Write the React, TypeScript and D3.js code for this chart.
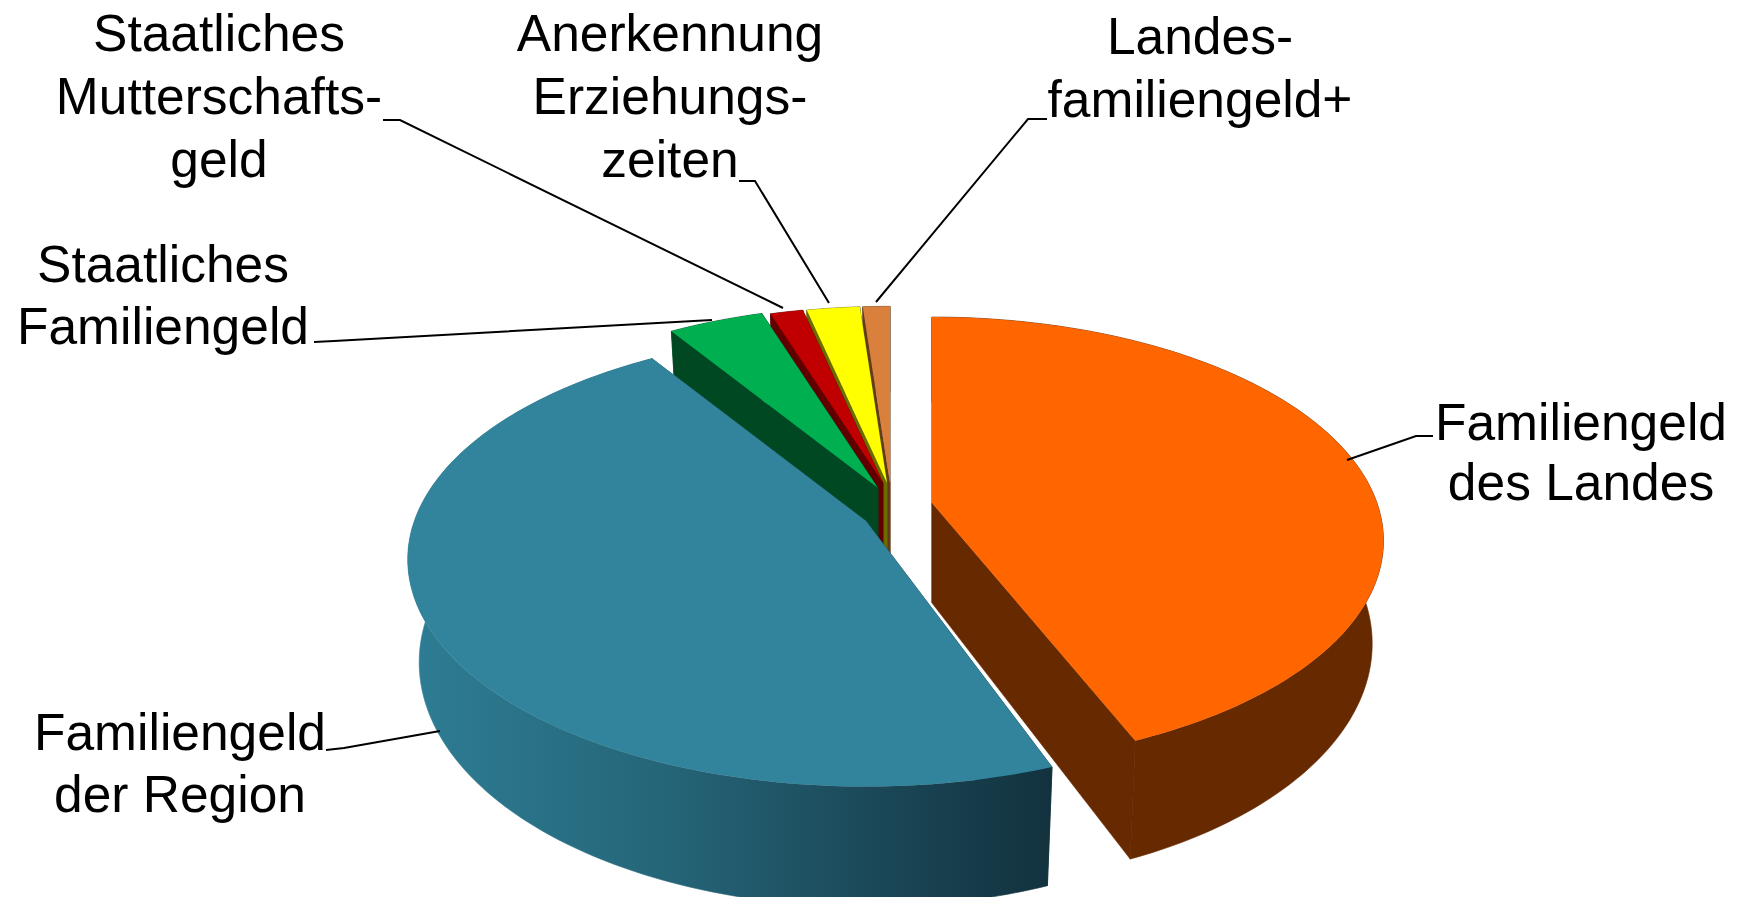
import React from "react";
import * as d3 from "d3";

// share of each slice in percent, clockwise from the back of the pie
const sliceNames = [
  "Familiengeld des Landes",
  "Familiengeld der Region",
  "Staatliches Familiengeld",
  "Staatliches Mutterschaftsgeld",
  "Anerkennung Erziehungszeiten",
  "Landesfamiliengeld+",
];
const sliceValues = [43.7, 47.2, 4.1, 1.45, 2.35, 1.2];
const topColors = ["#FF6600", "#31849B", "#00B050", "#C00000", "#FFFF00", "#D8803C"];
const sideColors = ["#662900", "url(#blueSide)", "#004822", "#600000", "#6B6B00", "#633A1A"];

// labels, one entry per line
const labelLines = [
  ["Familiengeld", "des Landes"],
  ["Familiengeld", "der Region"],
  ["Staatliches", "Familiengeld"],
  ["Staatliches", "Mutterschafts-", "geld"],
  ["Anerkennung", "Erziehungs-", "zeiten"],
  ["Landes-", "familiengeld+"],
];

// layout, in page pixels
const width = 1742;
const height = 897;
const radius = 445;
const squash = 0.4885;
const perspective = 0.169;
const depth = 100;
const floorShrink = 0.975; // the bottom of the pie is further from the camera
const apexes = [[932, 503], [866, 521], [878, 488], [883, 483], [887, 483], [890, 483]];
const radiusScale = [1, 1.015, 0.98, 0.95, 0.95, 0.95];
const startTrim = [0, 2.4, 0, 0, 0, 0]; // degrees, the big slices do not quite meet
const labelPos = [[1581, 440], [180, 750], [163, 282], [219, 51], [670, 51], [1200, 54]];
const labelStep = [60, 62, 62, 63, 63, 63];
const leaders = [
  [[1433, 436], [1416, 436], [1347, 460]],
  [[326, 750], [344, 748], [440, 731]],
  [[314, 342], [334, 341], [712, 320]],
  [[383, 120], [400, 120], [783, 308]],
  [[739, 181], [755, 181], [829, 303]],
  [[1047, 119], [1028, 119], [876, 302]],
];

const pie = d3.pie<number>().sort(null).value((d) => d).startAngle(0).endAngle(2 * Math.PI);
const arcs = pie(sliceValues);

const line = d3.line<number[]>().x((d) => d[0]).y((d) => d[1]);

function project(i: number, angle: number, r: number, drop: number) {
  const u = Math.sin(angle) * r;
  const v = -Math.cos(angle) * r;
  const s = 1 / (1 - perspective * v);
  const shrink = 1 - (1 - floorShrink) * drop;
  return [
    apexes[i][0] + radius * radiusScale[i] * u * s * shrink,
    apexes[i][1] + radius * radiusScale[i] * squash * v * s + drop * depth * s,
  ];
}

function arcPoints(i: number, drop: number) {
  const a = arcs[i];
  const start = a.startAngle + (startTrim[i] * Math.PI) / 180;
  const n = Math.max(4, Math.ceil((a.endAngle - start) * 60));
  return d3.range(n + 1).map((k) => project(i, start + ((a.endAngle - start) * k) / n, 1, drop));
}

function Slice({ i }: { i: number }) {
  const apex = project(i, 0, 0, 0);
  const apexLow = project(i, 0, 0, 1);
  const top = arcPoints(i, 0);
  const low = arcPoints(i, 1);
  const startFace = [apex, top[0], low[0], apexLow];
  const endFace = [apex, top[top.length - 1], low[low.length - 1], apexLow];
  const wall = [...top, ...low.slice().reverse()];
  const side = { fill: sideColors[i], stroke: sideColors[i], strokeWidth: 0.6 };
  return (
    <g data-name={sliceNames[i]}>
      <path d={line(endFace) + "Z"} {...side} />
      <path d={line(startFace) + "Z"} {...side} />
      <path d={line(wall) + "Z"} {...side} />
      <path d={line([apex, ...top]) + "Z"} fill={topColors[i]} />
    </g>
  );
}

export default function App() {
  // back to front, the two big slices last
  const order = [5, 4, 3, 2, 0, 1];
  return (
    <svg width={width} height={height} style={{ position: "absolute", left: 0, top: 0, display: "block" }}>
      <defs>
        <linearGradient id="blueSide" gradientUnits="userSpaceOnUse" x1="410" x2="1050" y1="0" y2="0">
          <stop offset="0" stopColor="#2E7D94" />
          <stop offset="0.4" stopColor="#256578" />
          <stop offset="0.75" stopColor="#1A4656" />
          <stop offset="1" stopColor="#12323E" />
        </linearGradient>
      </defs>
      <rect width={width} height={height} fill="#fff" />
      {order.map((i) => (
        <Slice key={i} i={i} />
      ))}
      {leaders.map((d, i) => (
        <path key={i} d={line(d) ?? ""} fill="none" stroke="#000" strokeWidth={2} />
      ))}
      {labelLines.map((lines, i) => (
        <text key={i} fontFamily="'Liberation Sans', Arial, sans-serif" fontSize={51.5} textAnchor="middle" fill="#000">
          {lines.map((t, k) => (
            <tspan key={k} x={labelPos[i][0]} y={labelPos[i][1] + k * labelStep[i]}>
              {t}
            </tspan>
          ))}
        </text>
      ))}
    </svg>
  );
}
